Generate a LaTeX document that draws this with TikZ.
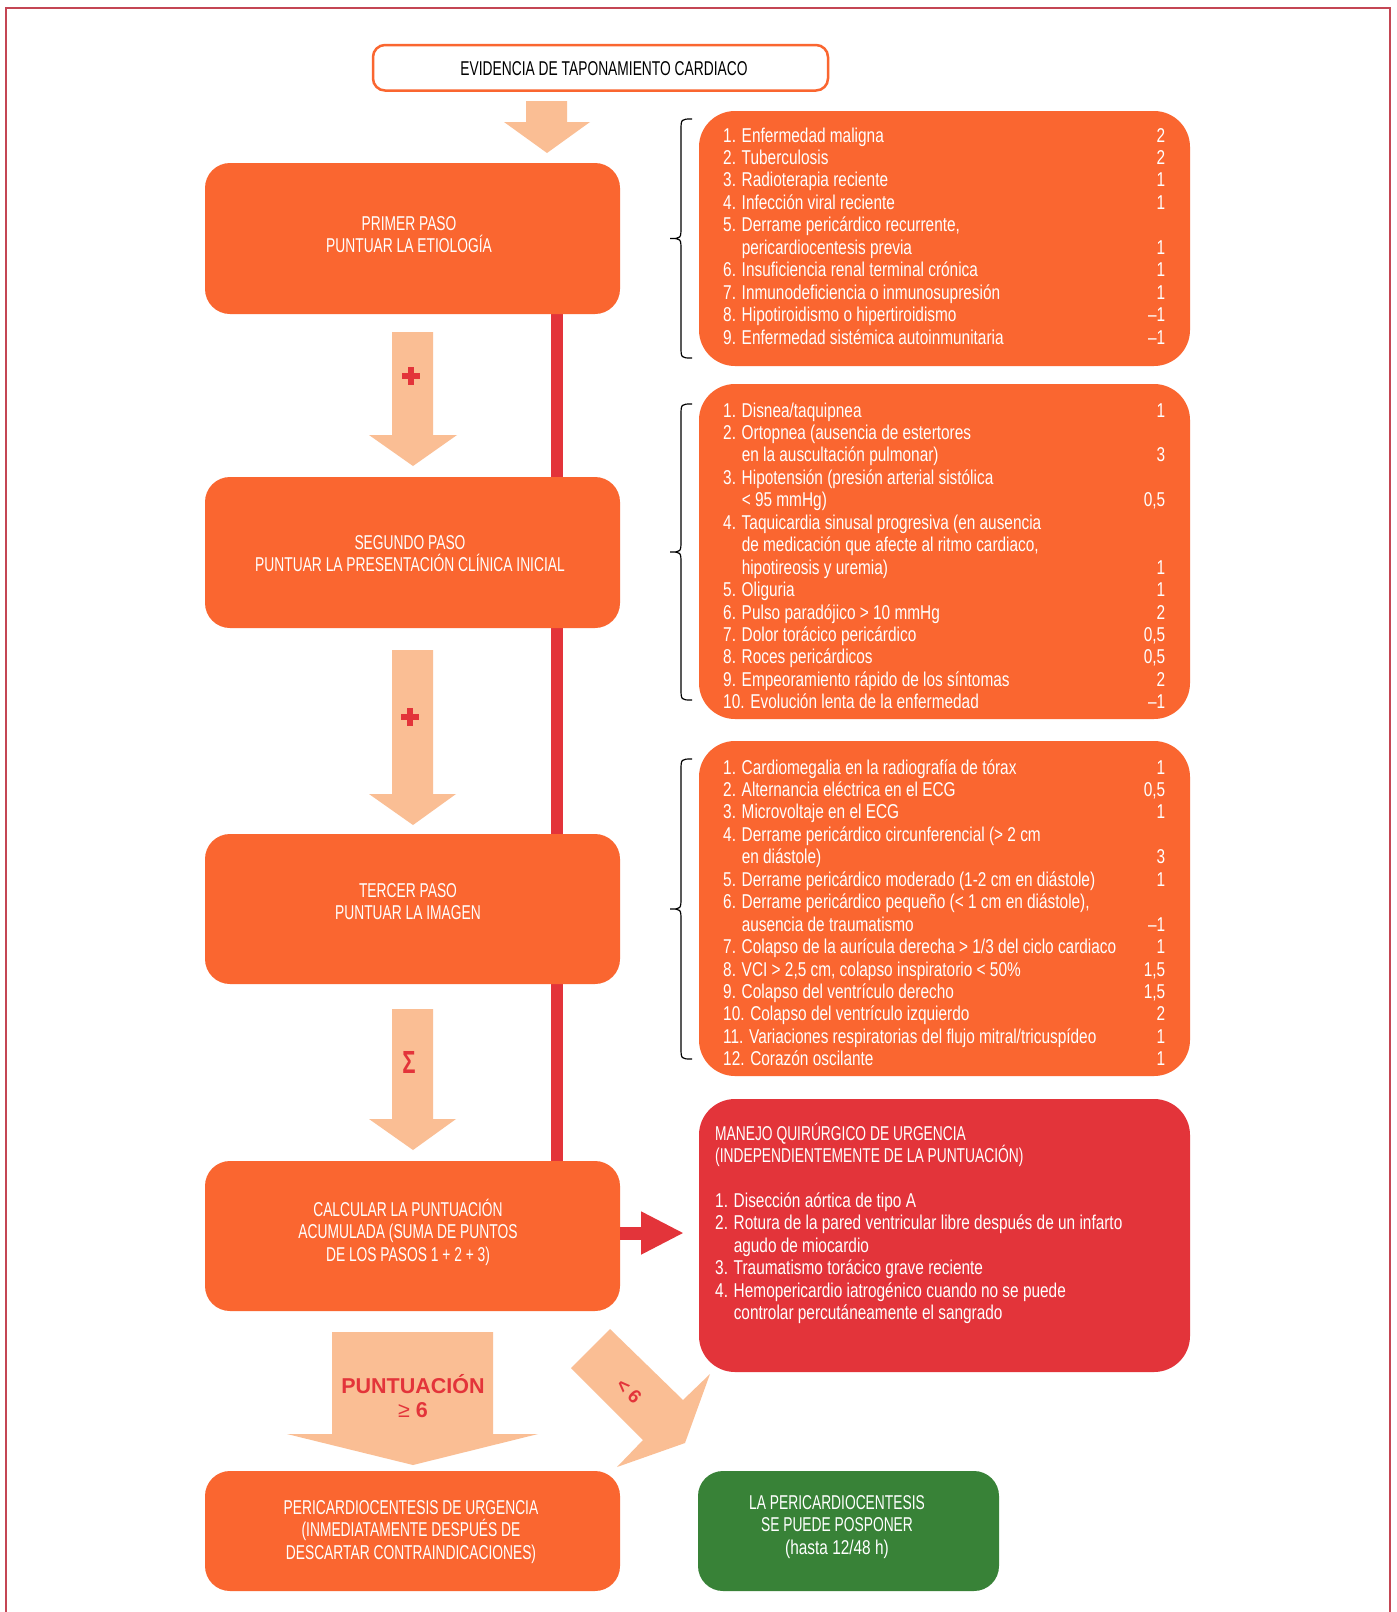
\documentclass[tikz,border=0pt]{standalone}
\usepackage{fontspec}
\setmainfont{Liberation Sans}[FakeStretch=0.77]
\newfontfamily\ucfont{Liberation Sans}[FakeStretch=0.69]
\newfontfamily\plainsans{Liberation Sans}
\usetikzlibrary{calc,arrows.meta,backgrounds}
\definecolor{orng}{RGB}{250,102,48}
\definecolor{peach}{RGB}{250,190,148}
\definecolor{redc}{RGB}{227,52,58}
\definecolor{grn}{RGB}{56,130,55}
\definecolor{framecol}{RGB}{196,70,84}
\begin{document}
\begin{tikzpicture}[x=1pt,y=-1pt,
  stepbox/.style={fill=orng, rounded corners=25, minimum width=415, minimum height=151, inner sep=0},
  panel/.style={fill=orng, rounded corners=36, minimum width=491, inner sep=0},
  topbox/.style={draw=orng, line width=2.5, fill=white, rounded corners=12, minimum width=455, minimum height=45.5, inner sep=0},
  steptext/.style={anchor=base, inner sep=0, text=white, font=\ucfont\fontsize{20}{22.5}\selectfont},
  listtext/.style={anchor=base west, inner sep=0, text=white, font=\fontsize{20}{22.45}\selectfont},
  blockarrow/.style={fill=peach},
  bracestyle/.style={draw=black, line width=1.2},
  redline/.style={draw=redc, line width=12},
  symb/.style={inner sep=0, text=redc},
]
\useasboundingbox (0,0) rectangle (1397,1612);

% boxes
\node[topbox] (ev) at (600.5,67.75) {};
\node[stepbox] (b1) at (412.5,238.5) {};
\node[stepbox] (b2) at (412.5,552.5) {};
\node[stepbox, minimum height=150] (b3) at (412.5,909) {};
\node[stepbox, minimum height=150] (b4) at (412.5,1236) {};
\node[stepbox, minimum height=120] (b5) at (412.5,1531) {};
\node[panel, minimum height=255] (p1) at (944.5,238.5) {};
\node[panel, minimum height=335] (p2) at (944.5,551.5) {};
\node[panel, minimum height=335] (p3) at (944.5,908.5) {};
\node[panel, fill=redc, minimum height=273] (pr) at (944.5,1235.5) {};
\node[stepbox, fill=grn, minimum width=301, minimum height=120] (gr) at (848.5,1531) {};

% background: white, frame, vertical red line behind the step boxes
\coordinate (vl) at (557,0);
\begin{pgfonlayer}{background}
\fill[white] (0,0) rectangle (1397,1612);
\draw[framecol, line width=1.5] (6,1612) -- (6,8) -- (1390,8) -- (1390,1612);
\draw[redline] (b1.south -| vl) -- (b4.north -| vl);
\end{pgfonlayer}

% peach block arrows
\fill[blockarrow] (526,101) -- (567,101) -- (567,122) -- (590,122) -- (547,153) -- (504,122) -- (526,122) -- cycle;
\fill[blockarrow] (392,332) -- (433,332) -- (433,435) -- (457,435) -- (413,466) -- (369,435) -- (392,435) -- cycle;
\fill[blockarrow] (392,650) -- (433,650) -- (433,794) -- (456,794) -- (413,825) -- (369,794) -- (392,794) -- cycle;
\fill[blockarrow] (392,1009) -- (433,1009) -- (433,1119) -- (456,1119) -- (413,1150) -- (369,1119) -- (392,1119) -- cycle;
\fill[blockarrow] (332,1332) -- (493,1332) -- (493,1434) -- (538,1434) -- (413,1465) -- (287,1434) -- (332,1434) -- cycle;
\fill[blockarrow] (571,1368) -- (610,1329) -- (683,1400) -- (710,1374) -- (685,1443) -- (617,1467) -- (643,1440) -- cycle;

% plus signs and sigma
\coordinate (plusA) at (411,376);
\coordinate (plusB) at (410,717);
\foreach \c in {plusA,plusB}{
  \fill[redc] ($(\c)+(-9,-3)$) rectangle ($(\c)+(9,3)$);
  \fill[redc] ($(\c)+(-3,-9)$) rectangle ($(\c)+(3,9)$);
}
\node[symb, font=\ucfont\bfseries\fontsize{32}{32}\selectfont] (sig) at (409,1062) {Σ};
\node[symb, anchor=base, font=\plainsans\bfseries\fontsize{21.5}{24}\selectfont] (pu) at (413,1393) {PUNTUACIÓN};
\node[symb, anchor=base, font=\plainsans\bfseries\fontsize{21.5}{24}\selectfont] (ge) at (413,1417) {{\mdseries ≥} 6};
\node[symb, rotate=-45, font=\plainsans\bfseries\fontsize{19}{20}\selectfont] (lt) at (629,1391) {< 6};

% red arrow
\coordinate (rtip) at (684,1233);
\draw[redc, line width=13, -{Triangle[length=43,width=40]}] (b4.east |- rtip) -- (rtip);

% braces
\draw[bracestyle] (692,119) .. controls (681,119) .. (681,131) -- (681,226.5) .. controls (681,238.5) .. (670,238.5) .. controls (681,238.5) .. (681,250.5) -- (681,346) .. controls (681,358) .. (692,358);
\draw[bracestyle] (692,404) .. controls (681,404) .. (681,416) -- (681,540) .. controls (681,552) .. (670,552) .. controls (681,552) .. (681,564) -- (681,688) .. controls (681,700) .. (692,700);
\draw[bracestyle] (692,759) .. controls (681,759) .. (681,771) -- (681,897) .. controls (681,909) .. (670,909) .. controls (681,909) .. (681,921) -- (681,1047) .. controls (681,1059) .. (692,1059);

% texts in left column
\node[steptext, text=black] (evt) at (604,75) {EVIDENCIA DE TAPONAMIENTO CARDIACO};
\node[steptext] (t1) at (409,230) {\begin{tabular}[t]{@{}c@{}}\smash{PRIMER PASO}\\\smash{PUNTUAR LA ETIOLOGÍA}\end{tabular}};
\node[steptext] (t2) at (410,549) {\begin{tabular}[t]{@{}c@{}}\smash{SEGUNDO PASO}\\\smash{PUNTUAR LA PRESENTACIÓN CLÍNICA INICIAL}\end{tabular}};
\node[steptext] (t3) at (408,897) {\begin{tabular}[t]{@{}c@{}}\smash{TERCER PASO}\\\smash{PUNTUAR LA IMAGEN}\end{tabular}};
\node[steptext] (t4) at (408,1216) {\begin{tabular}[t]{@{}c@{}}\smash{CALCULAR LA PUNTUACIÓN}\\\smash{ACUMULADA (SUMA DE PUNTOS}\\\smash{DE LOS PASOS 1 + 2 + 3)}\end{tabular}};
\node[steptext] (t5) at (411,1514) {\begin{tabular}[t]{@{}c@{}}\smash{PERICARDIOCENTESIS DE URGENCIA}\\\smash{(INMEDIATAMENTE DESPUÉS DE}\\\smash{DESCARTAR CONTRAINDICACIONES)}\end{tabular}};
\node[steptext] (tg) at (837,1509) {\begin{tabular}[t]{@{}c@{}}\smash{LA PERICARDIOCENTESIS}\\\smash{SE PUEDE POSPONER}\\\smash{\normalfont\fontsize{20}{22.5}\selectfont (hasta 12/48 h)}\end{tabular}};

% panel lists
\node[listtext] (l1) at (723,142) {\begin{tabular*}{442pt}[t]{@{}l@{\extracolsep{\fill}}r@{}}
1. Enfermedad maligna & 2\\
2. Tuberculosis & 2\\
3. Radioterapia reciente & 1\\
4. Infección viral reciente & 1\\
5. Derrame pericárdico recurrente, & \\
\hphantom{5. }pericardiocentesis previa & 1\\
6. Insuficiencia renal terminal crónica & 1\\
7. Inmunodeficiencia o inmunosupresión & 1\\
8. Hipotiroidismo o hipertiroidismo & –1\\
9. Enfermedad sistémica autoinmunitaria & –1
\end{tabular*}};

\node[listtext] (l2) at (723,417) {\begin{tabular*}{442pt}[t]{@{}l@{\extracolsep{\fill}}r@{}}
1. Disnea/taquipnea & 1\\
2. Ortopnea (ausencia de estertores & \\
\hphantom{2. }en la auscultación pulmonar) & 3\\
3. Hipotensión (presión arterial sistólica & \\
\hphantom{3. }< 95 mmHg) & 0,5\\
4. Taquicardia sinusal progresiva (en ausencia & \\
\hphantom{4. }de medicación que afecte al ritmo cardiaco, & \\
\hphantom{4. }hipotireosis y uremia) & 1\\
5. Oliguria & 1\\
6. Pulso paradójico > 10 mmHg & 2\\
7. Dolor torácico pericárdico & 0,5\\
8. Roces pericárdicos & 0,5\\
9. Empeoramiento rápido de los síntomas & 2\\
10. Evolución lenta de la enfermedad & –1
\end{tabular*}};

\node[listtext] (l3) at (723,774) {\begin{tabular*}{442pt}[t]{@{}l@{\extracolsep{\fill}}r@{}}
1. Cardiomegalia en la radiografía de tórax & 1\\
2. Alternancia eléctrica en el ECG & 0,5\\
3. Microvoltaje en el ECG & 1\\
4. Derrame pericárdico circunferencial (> 2 cm & \\
\hphantom{4. }en diástole) & 3\\
5. Derrame pericárdico moderado (1-2 cm en diástole) & 1\\
6. Derrame pericárdico pequeño (< 1 cm en diástole), & \\
\hphantom{6. }ausencia de traumatismo & –1\\
7. Colapso de la aurícula derecha > 1/3 del ciclo cardiaco & 1\\
8. VCI > 2,5 cm, colapso inspiratorio < 50\% & 1,5\\
9. Colapso del ventrículo derecho & 1,5\\
10. Colapso del ventrículo izquierdo & 2\\
11. Variaciones respiratorias del flujo mitral/tricuspídeo & 1\\
12. Corazón oscilante & 1
\end{tabular*}};

\node[listtext] (lr) at (715,1140) {\begin{tabular}[t]{@{}l@{}}
{\ucfont MANEJO QUIRÚRGICO DE URGENCIA}\\
\smash{\ucfont (INDEPENDIENTEMENTE DE LA PUNTUACIÓN)}\\
\\
1. Disección aórtica de tipo A\\
2. Rotura de la pared ventricular libre después de un infarto\\
\hphantom{2. }agudo de miocardio\\
3. Traumatismo torácico grave reciente\\
4. Hemopericardio iatrogénico cuando no se puede\\
\hphantom{4. }controlar percutáneamente el sangrado
\end{tabular}};
\end{tikzpicture}
\end{document}
